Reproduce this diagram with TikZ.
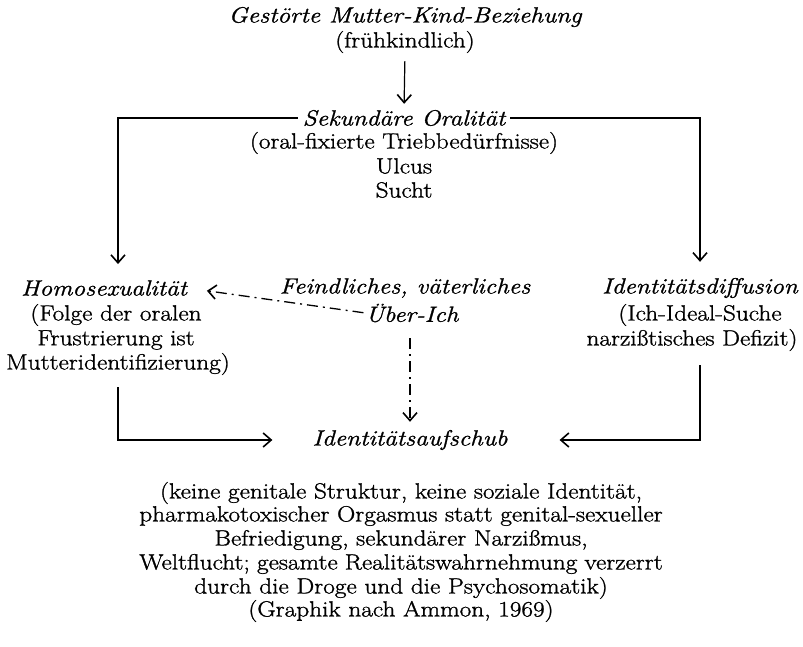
\documentclass[tikz,border=0pt]{standalone}
\usepackage{fontspec}
\setmainfont[FakeStretch=1.15,FakeBold=1.2]{Latin Modern Roman}
\usetikzlibrary{arrows.meta}
\newlength\refw
\begin{document}
\settowidth{\refw}{\fontsize{22}{24}\selectfont pharmakotoxischer Orgasmus statt genital-sexueller}
\begin{tikzpicture}[x=1pt,y=-1pt,
  txt/.style={inner sep=0pt, font=\fontsize{22}{24}\selectfont},
  it/.style={inner sep=0pt, font=\fontsize{22}{24}\selectfont\itshape},
  arr/.style={line width=1.2pt, -{Straight Barb[length=8pt,width=14pt,line width=1.6pt]}},
  dd/.style={arr, line width=1.3pt, dash pattern=on 11pt off 5pt on 2pt off 5pt}]
\path[use as bounding box, fill=white] (0,0) rectangle (803,647);
% top
\node[it]  (n1) at (405,17)  {Gestörte Mutter-Kind-Beziehung};
\node[txt] (n2) at (405,42)  {(frühkindlich)};
\node[it]  (n3) at (404,118) {Sekundäre Oralität};
\node[txt] (n4) at (404,143) {(oral-fixierte Triebbedürfnisse)};
\node[txt] (n5) at (404,166) {Ulcus};
\node[txt] (n6) at (404,190) {Sucht};
% left column
\node[it]  (homo)   at (104,288) {Homosexualität};
\node[txt] (folge)  at (116,315) {(Folge der oralen};
\node[txt] (frust)  at (116,340) {Frustrierung ist};
\node[txt] (mutter) at (118,364) {Mutteridentifizierung)};
% middle
\node[it] (feind) at (405,288) {Feindliches, väterliches};
\node[it] (ueber) at (412,313) {Über-Ich};
% right column
\node[it]  (idd)  at (700,288) {Identitätsdiffusion};
\node[txt] (ich)  at (700,315) {(Ich-Ideal-Suche};
\node[txt] (narz) at (692,340) {narzißtisches Defizit)};
% target
\node[it] (auf) at (410,440) {Identitätsaufschub};
% bottom text
\node[txt] (b1) at (401,493) {(keine genitale Struktur, keine soziale Identität,};
\node[txt] (b2) at (401,516) {pharmakotoxischer Orgasmus statt genital-sexueller};
\node[txt] (b3) at (401,540) {Befriedigung, sekundärer Narzißmus,};
\node[txt] (b4) at (401,564) {\makebox[\refw][s]{Weltflucht; gesamte Realitätswahrnehmung verzerrt}};
\node[txt] (b5) at (401,588) {durch die Droge und die Psychosomatik)};
\node[txt] (b6) at (401,611) {(Graphik nach Ammon, 1969)};
% connectors
\draw[arr, shorten <=8pt, shorten >=6pt] (n2.south) -- (n3.north);
\draw[arr, shorten <=5pt] (n3.west) -| ([yshift=16pt]homo.north -| mutter.north);
\draw[arr, shorten <=5pt] (n3.east) -| ([yshift=16pt]idd.north);
\draw[dd, shorten <=2pt, shorten >=20pt] (ueber.west) -- (homo.east);
\draw[dd, shorten <=16pt, shorten >=8pt] (auf.north |- ueber.south) -- (auf.north);
\draw[arr, shorten <=12pt] (mutter.south) |- ([xshift=-40pt]auf.west);
\draw[arr, shorten <=14pt] (narz.south -| idd.south) |- ([xshift=52pt]auf.east);
\end{tikzpicture}
\end{document}
